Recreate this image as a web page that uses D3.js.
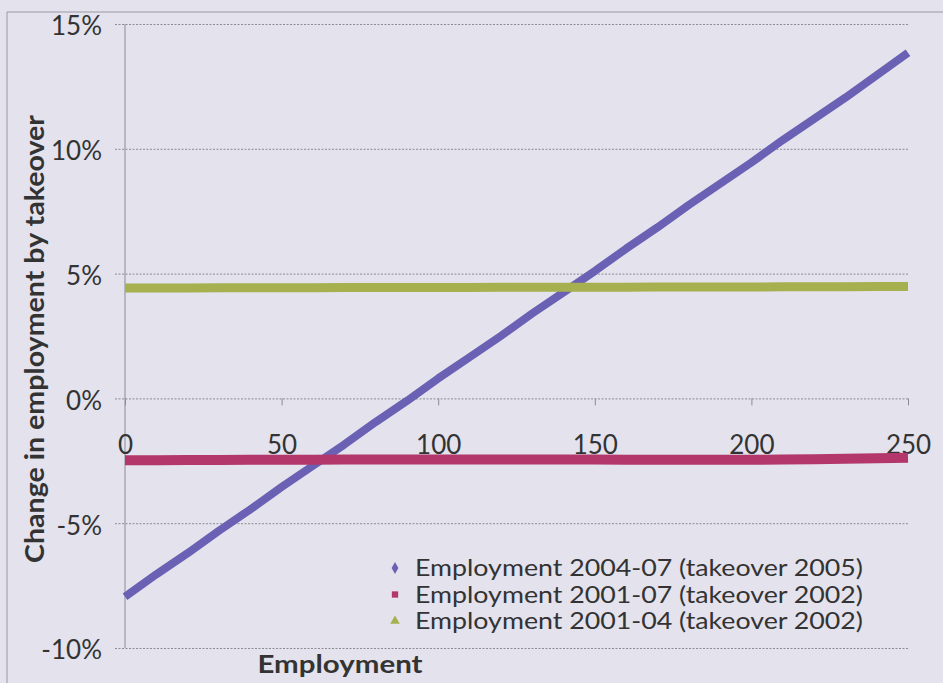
<!DOCTYPE html>
<html>
<head>
<meta charset="utf-8">
<script src="https://cdn.jsdelivr.net/npm/d3@7"></script>
<style>
  html, body { margin: 0; padding: 0; background: #e3e2ed; }
  svg { display: block; }
  text { font-family: Lato, "Open Sans", sans-serif; fill: #333; }
</style>
</head>
<body>
<svg id="chart" width="943" height="683"></svg>
<script>
// Firm size (employment) at which each estimate is evaluated
const employment = [0, 10, 20, 30, 40, 50, 60, 70, 80, 90, 100, 110, 120,
  130, 140, 150, 160, 170, 180, 190, 200, 210, 220, 230, 240, 250];

// Estimated % change in employment by takeover
const emp2004_07 = [-7.95, -7.05, -6.2, -5.3, -4.45, -3.55, -2.7, -1.85, -0.95, -0.1,
  0.8, 1.65, 2.5, 3.4, 4.25, 5.1, 6.0, 6.85, 7.75, 8.6, 9.45, 10.35, 11.2, 12.05, 12.95, 13.85];
const emp2001_07 = [-2.48, -2.48, -2.47, -2.47, -2.46, -2.46, -2.46, -2.45, -2.45, -2.45,
  -2.45, -2.45, -2.45, -2.45, -2.45, -2.45, -2.46, -2.46, -2.46, -2.46, -2.46, -2.45, -2.44, -2.42, -2.40, -2.38];
const emp2001_04 = [4.42, 4.42, 4.42, 4.43, 4.43, 4.43, 4.43, 4.44, 4.44, 4.44,
  4.44, 4.44, 4.45, 4.45, 4.45, 4.45, 4.45, 4.46, 4.46, 4.46, 4.46, 4.47, 4.47, 4.47, 4.48, 4.48];

const seriesNames = [
  "Employment 2004-07 (takeover 2005)",
  "Employment 2001-07 (takeover 2002)",
  "Employment 2001-04 (takeover 2002)"
];

const yTicks = [-10, -5, 0, 5, 10, 15];
const xTicks = [0, 50, 100, 150, 200, 250];

const series = [
  { name: seriesNames[0], values: emp2004_07, color: "#6a61b4", width: 8, symbol: d3.symbolDiamond, size: 40 },
  { name: seriesNames[1], values: emp2001_07, color: "#b3376b", width: 10, symbol: d3.symbolSquare, size: 40 },
  { name: seriesNames[2], values: emp2001_04, color: "#a6b04e", width: 9, symbol: d3.symbolTriangle, size: 40 }
];

const svg = d3.select("#chart");
const plot = { left: 125, right: 908, top: 24, bottom: 648 };

const x = d3.scaleLinear().domain([0, 250]).range([plot.left, plot.right]);
const y = d3.scaleLinear().domain([-10, 15]).range([plot.bottom, plot.top]);

// Outer chart frame (top and left edges visible)
svg.append("path")
  .attr("d", "M7,683 L7,12 L943,12")
  .attr("fill", "none")
  .attr("stroke", "#9a9aa2")
  .attr("stroke-width", 1);

// Y axis with dotted gridlines
const yAxis = svg.append("g")
  .attr("transform", `translate(${plot.left},0)`)
  .call(d3.axisLeft(y).tickValues(yTicks).tickSize(0).tickFormat(d => d + "%"));
yAxis.select(".domain").remove();
yAxis.selectAll(".tick line")
  .attr("x1", -10)
  .attr("x2", plot.right - plot.left)
  .attr("stroke", "#8c8c94")
  .attr("stroke-dasharray", "2,1.5");
yAxis.selectAll(".tick text")
  .attr("x", -23)
  .attr("dy", "0.42em")
  .attr("font-size", 26)
  .attr("font-family", "Lato, sans-serif")
  .attr("fill", "#333");

// Vertical axis line
svg.append("line")
  .attr("x1", plot.left).attr("x2", plot.left)
  .attr("y1", plot.top).attr("y2", plot.bottom)
  .attr("stroke", "#8c8c94");

// X axis crossing at 0%
const xAxis = svg.append("g")
  .attr("transform", `translate(0,${y(0)})`)
  .call(d3.axisBottom(x).tickValues(xTicks).tickSize(7).tickSizeOuter(0));
xAxis.select(".domain").remove();
xAxis.selectAll(".tick line").attr("stroke", "#8c8c94");
xAxis.selectAll(".tick text")
  .attr("y", 46)
  .attr("dy", "0.36em")
  .attr("font-size", 26)
  .attr("font-family", "Lato, sans-serif")
  .attr("fill", "#333");

// Series drawn as dense marker bands
const line = d3.line()
  .x((d, i) => x(employment[i]))
  .y(d => y(d));

series.forEach(s => {
  svg.append("path")
    .datum(s.values)
    .attr("d", line)
    .attr("fill", "none")
    .attr("stroke", s.color)
    .attr("stroke-width", s.width)
    .attr("stroke-linecap", "butt")
    .attr("stroke-linejoin", "round");
});

// Axis titles
svg.append("text")
  .attr("transform", `translate(44,${339}) rotate(-90)`)
  .attr("text-anchor", "middle")
  .attr("font-size", 26)
  .attr("font-weight", "bold")
  .attr("textLength", 448)
  .attr("lengthAdjust", "spacingAndGlyphs")
  .text("Change in employment by takeover");

svg.append("text")
  .attr("x", 340)
  .attr("y", 673)
  .attr("text-anchor", "middle")
  .attr("font-size", 25)
  .attr("font-weight", "bold")
  .attr("textLength", 165)
  .attr("lengthAdjust", "spacingAndGlyphs")
  .text("Employment");

// Legend
const legend = svg.append("g");
const rowY = [568, 594.5, 621];
series.forEach((s, i) => {
  legend.append("path")
    .attr("transform", `translate(395,${rowY[i]})`)
    .attr("d", d3.symbol().type(s.symbol).size(s.size))
    .attr("fill", s.color);
  legend.append("text")
    .attr("x", 415)
    .attr("y", rowY[i])
    .attr("dy", "0.36em")
    .attr("font-size", 23)
    .attr("textLength", 448)
    .attr("lengthAdjust", "spacingAndGlyphs")
    .text(s.name);
});
</script>
</body>
</html>
